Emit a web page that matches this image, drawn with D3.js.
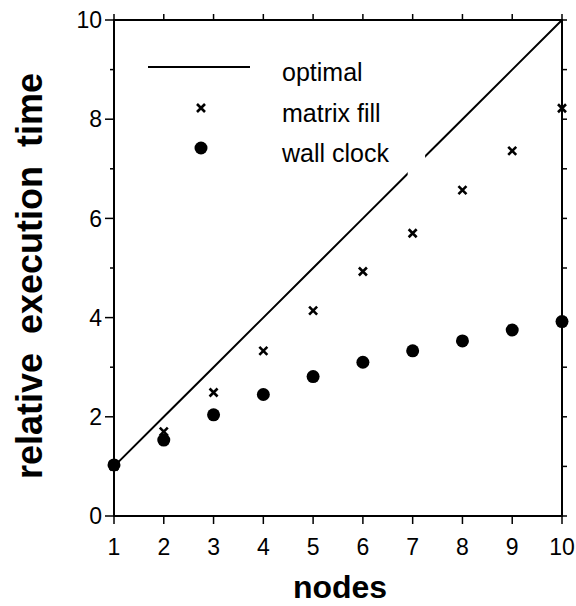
<!DOCTYPE html>
<html>
<head>
<meta charset="utf-8">
<script src="https://cdn.jsdelivr.net/npm/d3@7"></script>
<style>
    body { margin: 0; background: #fff; }
    svg text { font-family: "Liberation Sans", Arial, sans-serif; fill: #000; }
</style>
</head>
<body>
<svg id="chart" width="576" height="606"></svg>
<script>
var nodes = [1, 2, 3, 4, 5, 6, 7, 8, 9, 10];
var optimal = [1, 2, 3, 4, 5, 6, 7, 8, 9, 10];
var matrixFill = [1.0, 1.7, 2.49, 3.33, 4.14, 4.93, 5.70, 6.57, 7.36, 8.22];
var wallClock = [1.03, 1.53, 2.04, 2.45, 2.81, 3.10, 3.33, 3.53, 3.75, 3.92];
var xTicks = [1, 2, 3, 4, 5, 6, 7, 8, 9, 10];
var yTicks = [0, 2, 4, 6, 8, 10];
var legendNames = ["optimal", "matrix fill", "wall clock"];

var svg = d3.select("#chart");
var x = d3.scaleLinear().domain([1, 10]).range([114, 562]);
var y = d3.scaleLinear().domain([0, 10]).range([516, 20]);

// frame
svg.append("rect")
    .attr("x", x(1)).attr("y", y(10))
    .attr("width", x(10) - x(1)).attr("height", y(0) - y(10))
    .attr("fill", "none").attr("stroke", "#000").attr("stroke-width", 2);

// ticks: left (major + minor), bottom, top, right
var yAll = d3.range(0, 11);
svg.selectAll(".ytick").data(yAll).enter().append("line")
    .attr("x1", function(d){ return x(1) - (d % 2 == 0 ? 9 : 4); })
    .attr("x2", x(1))
    .attr("y1", function(d){ return y(d); }).attr("y2", function(d){ return y(d); })
    .attr("stroke", "#000").attr("stroke-width", 1.5);
svg.selectAll(".rtick").data(yAll).enter().append("line")
    .attr("x1", x(10)).attr("x2", x(10) + 5)
    .attr("y1", function(d){ return y(d); }).attr("y2", function(d){ return y(d); })
    .attr("stroke", "#000").attr("stroke-width", 1.5);
svg.selectAll(".btick").data(xTicks).enter().append("line")
    .attr("x1", function(d){ return x(d); }).attr("x2", function(d){ return x(d); })
    .attr("y1", y(0)).attr("y2", y(0) + 8)
    .attr("stroke", "#000").attr("stroke-width", 1.5);
svg.selectAll(".ttick").data(xTicks).enter().append("line")
    .attr("x1", function(d){ return x(d); }).attr("x2", function(d){ return x(d); })
    .attr("y1", y(10)).attr("y2", y(10) - 6)
    .attr("stroke", "#000").attr("stroke-width", 1.5);

// tick labels
svg.selectAll(".ylab").data(yTicks).enter().append("text")
    .attr("x", x(1) - 12).attr("y", function(d){ return y(d); })
    .attr("dy", "0.36em").attr("text-anchor", "end")
    .style("font-size", "23px").text(function(d){ return d; });
svg.selectAll(".xlab").data(xTicks).enter().append("text")
    .attr("x", function(d){ return x(d); }).attr("y", y(0) + 39)
    .attr("text-anchor", "middle")
    .style("font-size", "23px").text(function(d){ return d; });

// axis titles
svg.append("text")
    .attr("x", 340).attr("y", 598).attr("text-anchor", "middle")
    .style("font-size", "32px").style("font-weight", "bold")
    .text("nodes");
svg.append("text")
    .attr("transform", "translate(42,276) rotate(-90)")
    .attr("text-anchor", "middle")
    .style("font-size", "36px").style("font-weight", "bold")
    .style("word-spacing", "9px")
    .text("relative execution time");

// optimal line
var line = d3.line().x(function(d, i){ return x(nodes[i]); }).y(function(d){ return y(d); });
svg.append("path").datum(optimal)
    .attr("d", line).attr("fill", "none").attr("stroke", "#000").attr("stroke-width", 2);
// small break in the line near the legend
svg.append("rect")
    .attr("x", x(6.9)).attr("y", y(7.3))
    .attr("width", x(7.25) - x(6.9)).attr("height", y(6.85) - y(7.3))
    .attr("fill", "#fff");

function cross(g, cx, cy) {
    var s = 4;
    g.append("path")
        .attr("d", "M" + (cx - s) + "," + (cy - s) + "L" + (cx + s) + "," + (cy + s) +
                   "M" + (cx - s) + "," + (cy + s) + "L" + (cx + s) + "," + (cy - s))
        .attr("stroke", "#000").attr("stroke-width", 2.6).attr("fill", "none");
}

// matrix fill crosses
matrixFill.forEach(function(v, i){ cross(svg, x(nodes[i]), y(v)); });

// wall clock dots
svg.selectAll(".dot").data(wallClock).enter().append("circle")
    .attr("cx", function(d, i){ return x(nodes[i]); })
    .attr("cy", function(d){ return y(d); })
    .attr("r", 6.5).attr("fill", "#000");

// legend
svg.append("line").attr("x1", 148).attr("x2", 250).attr("y1", 67).attr("y2", 67)
    .attr("stroke", "#000").attr("stroke-width", 2);
cross(svg, 201, 108);
svg.append("circle").attr("cx", 201).attr("cy", 148).attr("r", 6.5).attr("fill", "#000");
svg.selectAll(".leg").data(legendNames).enter().append("text")
    .attr("x", 282).attr("y", function(d, i){ return 81 + i * 40.5; })
    .style("font-size", "25px").text(function(d){ return d; });
</script>
</body>
</html>
